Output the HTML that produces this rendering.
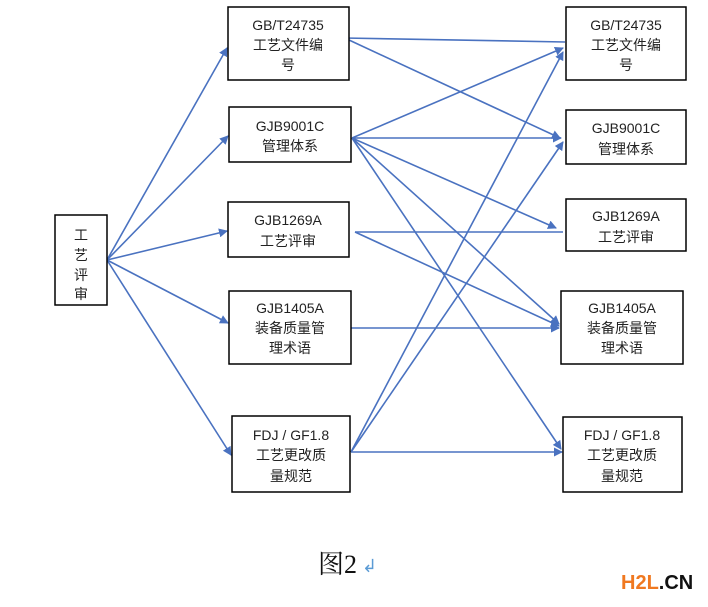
<!DOCTYPE html>
<html><head><meta charset="utf-8"><style>
body{margin:0;background:#fff;width:708px;height:602px;overflow:hidden}
</style></head><body>
<svg width="708" height="602" xmlns="http://www.w3.org/2000/svg" font-family="Liberation Sans, Noto Sans CJK SC, sans-serif">
<defs><marker id="a" markerWidth="9" markerHeight="9" refX="8" refY="4.5" orient="auto" markerUnits="userSpaceOnUse"><path d="M0,0 L9,4.5 L0,9 z" fill="#4A72C0"/></marker></defs>
<g stroke="#4A72C0" stroke-width="1.6" fill="none">
<line x1="107" y1="260" x2="227" y2="48" marker-end="url(#a)"/>
<line x1="107" y1="260" x2="228" y2="136" marker-end="url(#a)"/>
<line x1="107" y1="260" x2="227" y2="231" marker-end="url(#a)"/>
<line x1="107" y1="260" x2="228" y2="323" marker-end="url(#a)"/>
<line x1="107" y1="260" x2="231" y2="455" marker-end="url(#a)"/>
<line x1="344" y1="38" x2="565" y2="42"/>
<line x1="349" y1="40" x2="560" y2="138" marker-end="url(#a)"/>
<line x1="352" y1="138" x2="563" y2="48" marker-end="url(#a)"/>
<line x1="352" y1="138" x2="561" y2="138" marker-end="url(#a)"/>
<line x1="352" y1="138" x2="556" y2="228" marker-end="url(#a)"/>
<line x1="352" y1="138" x2="559" y2="324" marker-end="url(#a)"/>
<line x1="352" y1="138" x2="561" y2="449" marker-end="url(#a)"/>
<line x1="355" y1="232" x2="563" y2="232"/>
<line x1="355" y1="232" x2="559" y2="326" marker-end="url(#a)"/>
<line x1="351" y1="328" x2="559" y2="328" marker-end="url(#a)"/>
<line x1="351" y1="452" x2="563" y2="52" marker-end="url(#a)"/>
<line x1="351" y1="452" x2="563" y2="142" marker-end="url(#a)"/>
<line x1="351" y1="452" x2="562" y2="452" marker-end="url(#a)"/>
</g>
<g stroke="#000" stroke-width="1.5" fill="#fff">
<rect x="55" y="215" width="52" height="90"/>
<rect x="228" y="7" width="121" height="73"/>
<rect x="229" y="107" width="122" height="55"/>
<rect x="228" y="202" width="121" height="55"/>
<rect x="229" y="291" width="122" height="73"/>
<rect x="232" y="416" width="118" height="76"/>
<rect x="566" y="7" width="120" height="73"/>
<rect x="566" y="110" width="120" height="54"/>
<rect x="566" y="199" width="120" height="52"/>
<rect x="561" y="291" width="122" height="73"/>
<rect x="563" y="417" width="119" height="75"/>
</g>
<g font-size="14" fill="#222" text-anchor="middle">
<text x="81" y="240">工</text><text x="81" y="260">艺</text><text x="81" y="280">评</text><text x="81" y="299">审</text>
<text x="288" y="30">GB/T24735</text><text x="288" y="50">工艺文件编</text><text x="288" y="70">号</text>
<text x="290" y="131">GJB9001C</text><text x="290" y="151">管理体系</text>
<text x="288" y="225">GJB1269A</text><text x="288" y="246">工艺评审</text>
<text x="290" y="313">GJB1405A</text><text x="290" y="333">装备质量管</text><text x="290" y="353">理术语</text>
<text x="291" y="440">FDJ / GF1.8</text><text x="291" y="460">工艺更改质</text><text x="291" y="481">量规范</text>
<text x="626" y="30">GB/T24735</text><text x="626" y="50">工艺文件编</text><text x="626" y="70">号</text>
<text x="626" y="133">GJB9001C</text><text x="626" y="154">管理体系</text>
<text x="626" y="221">GJB1269A</text><text x="626" y="242">工艺评审</text>
<text x="622" y="313">GJB1405A</text><text x="622" y="333">装备质量管</text><text x="622" y="353">理术语</text>
<text x="622" y="440">FDJ / GF1.8</text><text x="622" y="460">工艺更改质</text><text x="622" y="481">量规范</text>
</g>
<text x="318" y="573" font-size="26" font-family="Liberation Serif, Noto Serif CJK SC, serif" fill="#111">图2</text>
<text x="362" y="572" font-size="18" fill="#5B9BD5">↲</text>
<text x="621" y="589" font-size="20" font-weight="bold"><tspan fill="#F07820">H2L</tspan><tspan fill="#111">.CN</tspan></text>
</svg>
</body></html>
